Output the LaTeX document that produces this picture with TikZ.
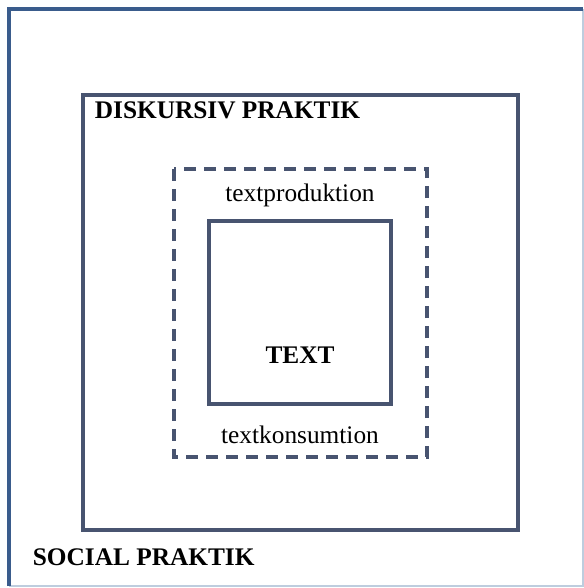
\documentclass[tikz,border=0pt]{standalone}
\usepackage{fontspec}
\setmainfont{Liberation Serif}
\usepackage{tikz}

\definecolor{framblue}{RGB}{58,92,140}
\definecolor{framlight}{RGB}{190,205,222}
\definecolor{boxslate}{RGB}{72,84,112}

\begin{document}
\begin{tikzpicture}[x=0.75pt,y=-0.75pt,line width=2.8pt,
  boxline/.style={draw=boxslate},
  dashline/.style={draw=boxslate,dash pattern=on 9pt off 6pt},
  headtxt/.style={font=\fontsize{19}{22}\selectfont\bfseries,inner sep=0pt},
  plaintxt/.style={font=\fontsize{19}{22}\selectfont,inner sep=0pt}]

\useasboundingbox (0,0) rectangle (584,588);

% social praktik
\draw [draw=framlight,line width=1.4pt] (583,9) -- (583,586) -- (9,586);
\draw [draw=framblue] (9,586) -- (9,9) -- (583,9);
\node[headtxt,anchor=base west] (social) at (31,565) {SOCIAL PRAKTIK};

% diskursiv praktik
\draw [boxline] (83,95) rectangle (518,530);
\node[headtxt,anchor=base west] (diskursiv) at (93,118) {DISKURSIV PRAKTIK};

% textproduktion / textkonsumtion
\draw [dashline] (174,169) rectangle (427,457);
\node[plaintxt,anchor=base] (produktion) at (300,201) {textproduktion};
\node[plaintxt,anchor=base] (konsumtion) at (300,443) {textkonsumtion};

% text
\draw [boxline] (209,221) rectangle (391,404);
\node[headtxt,anchor=base] (text) at (300,363) {TEXT};

\end{tikzpicture}
\end{document}
